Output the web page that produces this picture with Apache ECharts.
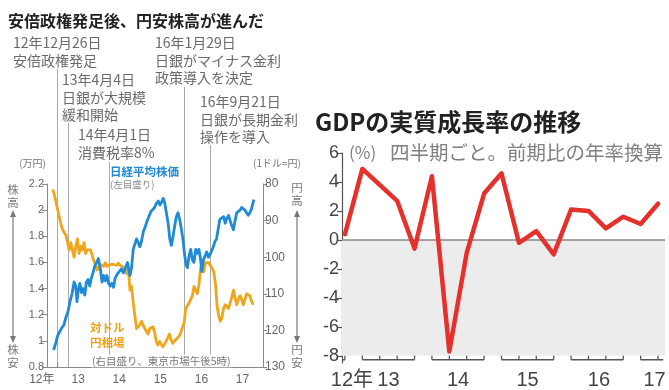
<!DOCTYPE html>
<html>
<head>
<meta charset="utf-8">
<script src="https://cdn.jsdelivr.net/npm/echarts@6.0.0/dist/echarts.min.js"></script>
<style>
html,body{margin:0;padding:0;background:#ffffff;}
#chart{width:669px;height:390px;}
</style>
</head>
<body>
<div id="chart"></div>
<script>
// ---------------- data ----------------
// Nikkei average (10,000 yen), decimal-year sampling
const nikkeiT = [2012.90,2012.95,2013.00,2013.05,2013.10,2013.15,2013.20,2013.25,2013.30,2013.35,
2013.40,2013.44,2013.47,2013.50,2013.54,2013.58,2013.62,2013.66,2013.70,2013.74,
2013.78,2013.82,2013.86,2013.90,2013.95,2013.99,2014.04,2014.08,2014.12,2014.16,
2014.20,2014.24,2014.28,2014.32,2014.36,2014.40,2014.45,2014.50,2014.55,2014.60,
2014.65,2014.70,2014.76,2014.80,2014.84,2014.88,2014.92,2014.96,2015.00,2015.04,
2015.09,2015.13,2015.18,2015.22,2015.27,2015.31,2015.36,2015.40,2015.45,2015.49,
2015.53,2015.57,2015.61,2015.65,2015.69,2015.73,2015.77,2015.81,2015.85,2015.89,
2015.93,2015.97,2016.01,2016.05,2016.09,2016.13,2016.16,2016.20,2016.24,2016.28,
2016.32,2016.36,2016.40,2016.44,2016.48,2016.51,2016.55,2016.59,2016.63,2016.67,
2016.71,2016.75,2016.79,2016.83,2016.87,2016.91,2016.95,2016.99,2017.04,2017.08,
2017.12,2017.16,2017.20,2017.24,2017.28,2017.32,2017.36,2017.40,2017.44,2017.48,
2017.52,2017.56,2017.60,2017.64,2017.68,2017.72,2017.76,2017.78];
const nikkeiV = [0.93,0.98,1.04,1.07,1.10,1.12,1.18,1.22,1.30,1.36,
1.45,1.42,1.30,1.38,1.44,1.37,1.40,1.35,1.45,1.47,
1.42,1.48,1.52,1.57,1.60,1.63,1.55,1.45,1.50,1.46,
1.50,1.44,1.42,1.44,1.41,1.48,1.51,1.53,1.55,1.52,
1.56,1.60,1.50,1.56,1.70,1.74,1.78,1.75,1.72,1.76,
1.84,1.87,1.92,1.95,1.99,1.98,2.02,2.05,2.07,2.04,
2.06,2.09,2.05,2.06,1.90,1.78,1.73,1.80,1.88,1.95,
1.98,1.93,1.86,1.78,1.66,1.58,1.56,1.65,1.70,1.62,
1.60,1.70,1.67,1.70,1.62,1.53,1.62,1.65,1.68,1.64,
1.66,1.69,1.72,1.76,1.78,1.86,1.93,1.92,1.95,1.90,
1.94,1.96,1.92,1.88,1.85,1.92,1.98,1.98,2.00,2.02,
2.01,2.00,1.98,1.96,1.98,2.01,2.06,2.08];

// Yen per dollar
const yenT = [2012.88,2012.92,2012.96,2013.00,2013.04,2013.08,2013.12,2013.16,2013.20,2013.24,
2013.28,2013.32,2013.36,2013.40,2013.44,2013.48,2013.52,2013.56,2013.60,2013.64,
2013.68,2013.72,2013.76,2013.80,2013.84,2013.88,2013.92,2013.96,2014.00,2014.04,
2014.08,2014.12,2014.16,2014.20,2014.24,2014.28,2014.32,2014.36,2014.40,2014.44,
2014.48,2014.52,2014.56,2014.60,2014.64,2014.68,2014.72,2014.76,2014.80,2014.84,
2014.88,2014.92,2014.96,2015.00,2015.04,2015.08,2015.12,2015.16,2015.20,2015.24,
2015.28,2015.32,2015.36,2015.40,2015.44,2015.48,2015.52,2015.56,2015.60,2015.64,
2015.68,2015.72,2015.76,2015.80,2015.84,2015.88,2015.92,2015.96,2016.00,2016.04,
2016.08,2016.12,2016.16,2016.20,2016.24,2016.28,2016.32,2016.36,2016.40,2016.44,
2016.48,2016.52,2016.56,2016.60,2016.64,2016.68,2016.72,2016.76,2016.80,2016.84,
2016.88,2016.92,2016.96,2017.00,2017.04,2017.08,2017.12,2017.16,2017.20,2017.24,
2017.28,2017.32,2017.36,2017.40,2017.44,2017.48,2017.52,2017.56,2017.60,2017.64,
2017.68,2017.72,2017.76];
const yenV = [81.5,83,85,87,89,91,92.5,93,94,96,
98,96,98,100,97,95,99,97,98,96,
99,98,97.5,98,99.5,101,102,103.5,103,102,
101.5,102.5,101.5,102.5,103,102,101.5,102,101.8,102.2,
101.6,102.2,102.5,102.8,103.5,104.5,103,109,108,112.5,
116,119.5,120,118.5,117.5,118,119.5,120,121,119.5,
120,119,120.5,123,124,123,123.5,124.5,124.5,123,
122,121,122.5,123.5,123,122.5,122,121.5,120.5,119,
118,114,113.5,112.5,112,110.5,108,109,110,107.5,
103,102,104,101.5,102,101.5,102,103,104,107,
113,116,117.5,116.5,114,113,112.5,114,112.5,111,
109,111,113,111.5,110.5,111.5,113,111.5,110,109.5,
110.5,112,113];

const leftYearLabels = ['12年','13','14','15','16','17'];
const leftYearLabelPos = [2012.76,2013.5,2014.5,2015.5,2016.5,2017.5];
const leftYearTicks = [2013,2014,2015,2016,2017];

const eventDates = ['2012-12-26','2013-04-04','2014-04-01','2016-01-29','2016-09-21'];
const eventTexts = [
  ['12年12月26日','安倍政権発足'],
  ['13年4月4日','日銀が大規模','緩和開始'],
  ['14年4月1日','消費税率8%'],
  ['16年1月29日','日銀がマイナス金利','政策導入を決定'],
  ['16年9月21日','日銀が長期金利','操作を導入']
];

// GDP real growth (annualized q/q, %)
const gdpQuarters = ['2012Q4','2013Q1','2013Q2','2013Q3','2013Q4','2014Q1','2014Q2','2014Q3','2014Q4',
'2015Q1','2015Q2','2015Q3','2015Q4','2016Q1','2016Q2','2016Q3','2016Q4','2017Q1','2017Q2'];
const gdpValues = [0.4,4.9,3.8,2.7,-0.6,4.4,-7.7,-0.9,3.2,4.6,-0.2,0.6,-1.0,2.1,2.0,0.8,1.6,1.1,2.5];
const gdpYTicks = [-8,-6,-4,-2,0,2,4,6];
const gdpYearLabels = ['12年','13','14','15','16','17'];
const gdpYearLabelPos = [0.4,2.5,6.5,10.5,14.6,17.8];

// ---------------- chart ----------------
const JP = "'Noto Sans CJK JP','Noto Sans',sans-serif";
const NUM = "'Liberation Sans','Noto Sans CJK JP',sans-serif";
const NARROW = "'Liberation Sans Narrow','Liberation Sans','Noto Sans CJK JP',sans-serif";

function decYear(s){
  const p = s.split('-').map(Number);
  const a = Date.UTC(p[0],0,1), b = Date.UTC(p[0]+1,0,1);
  return p[0] + (Date.UTC(p[0],p[1]-1,p[2]) - a) / (b - a);
}

const nikkeiData = nikkeiT.map((t,i)=>[t,nikkeiV[i]]);
const yenData = yenT.map((t,i)=>[t,yenV[i]]);
const gdpData = gdpValues.map((v,i)=>[i,v]);

const GX_MIN = -0.17, GX_MAX = 18.4;
const GY_MIN = -8.5, GY_MAX = 6;
const GY_BASE = -8.27;             // broken baseline sits a little under the -8 tick
const groups = [];
gdpQuarters.forEach((q,i)=>{
  const y = q.slice(0,4);
  let g = groups.find(o=>o.y===y);
  if(!g){ g = {y:y, first:i, last:i}; groups.push(g); } else g.last = i;
});
const segSeries = groups.map((g,k)=>{
  const a = k===0 ? GX_MIN : g.first;
  const b = k===groups.length-1 ? GX_MAX - 0.1 : g.last;
  const pts = [{value:[a,GY_BASE], symbol:'none'}];
  for(let i=g.first;i<=g.last;i++) pts.push({value:[i,GY_BASE]});
  pts.push({value:[b,GY_BASE], symbol:'none'});
  return {
    type:'line', xAxisIndex:1, yAxisIndex:2, silent:true, z:8,
    showAllSymbol:true, symbol:'rect', symbolSize:[1.3,4], symbolOffset:[0,-2],
    itemStyle:{color:'#555'},
    lineStyle:{color:'#555', width:1.5},
    data:pts
  };
});

const chart = echarts.init(document.getElementById('chart'), null, {renderer:'canvas'});

const option = {
  animation:false,
  backgroundColor:'#ffffff',
  textStyle:{fontFamily:JP},
  grid:[
    {left:47, right:406, top:184, bottom:23},
    {left:342, right:4, top:153, bottom:25.7}
  ],
  xAxis:[
    {
      gridIndex:0, type:'value', min:2012.74, max:2018.0,
      axisLine:{show:true, onZero:false, lineStyle:{color:'#888', width:1}},
      axisTick:{show:false},
      axisLabel:{
        customValues:leftYearLabelPos, color:'#666', fontSize:12, margin:7, fontFamily:NARROW,
        formatter:function(v){
          const i = leftYearLabelPos.findIndex(p=>Math.abs(p-v)<1e-6);
          if(i===0) return '{a|'+leftYearLabels[0]+'}';
          return i>=0 ? leftYearLabels[i] : '';
        },
        rich:{a:{fontSize:12, color:'#666', fontFamily:NARROW, padding:[0,12,0,0]}}
      },
      splitLine:{show:false}
    },
    {
      gridIndex:1, type:'value', min:GX_MIN, max:GX_MAX,
      axisLine:{show:false, onZero:false},
      axisTick:{show:false},
      axisLabel:{
        customValues:gdpYearLabelPos, color:'#444', fontSize:20, margin:7, fontFamily:NUM,
        formatter:function(v){
          const i = gdpYearLabelPos.findIndex(p=>Math.abs(p-v)<1e-6);
          return i>=0 ? gdpYearLabels[i] : '';
        }
      },
      splitLine:{show:false}
    }
  ],
  yAxis:[
    {
      gridIndex:0, type:'value', position:'left', min:0.8, max:2.2, interval:0.2,
      axisLine:{show:true, onZero:false, lineStyle:{color:'#888', width:1}},
      axisTick:{show:true, length:5, lineStyle:{color:'#888'}},
      axisLabel:{color:'#666', fontSize:11, margin:3, fontFamily:NARROW,
        formatter:function(v){ return String(Math.round(v*10)/10); }},
      splitLine:{show:false}
    },
    {
      gridIndex:0, type:'value', position:'right', inverse:true, min:80, max:130, interval:10,
      axisLine:{show:true, onZero:false, lineStyle:{color:'#888', width:1}},
      axisTick:{show:true, length:4, lineStyle:{color:'#888'}},
      axisLabel:{color:'#666', fontSize:12, margin:2, fontFamily:NARROW},
      splitLine:{show:false}
    },
    {
      gridIndex:1, type:'value', min:GY_MIN, max:GY_MAX,
      axisLine:{show:true, onZero:false, lineStyle:{color:'#555', width:1.2}},
      axisTick:{show:true, length:5, customValues:gdpYTicks, lineStyle:{color:'#555', width:1.2}},
      axisLabel:{color:'#444', fontSize:18, margin:3, fontFamily:NUM, customValues:gdpYTicks},
      splitLine:{show:false}
    }
  ],
  series:[
    {
      name:'円相場', type:'line', xAxisIndex:0, yAxisIndex:1, data:yenData,
      symbol:'none', z:3, lineStyle:{color:'#f0a61c', width:2.8, join:'round'}
    },
    {
      name:'日経平均株価', type:'line', xAxisIndex:0, yAxisIndex:0, data:nikkeiData,
      symbol:'none', z:4, lineStyle:{color:'#1f8ad6', width:2.8, join:'round'}
    },
    {
      name:'yearTicks', type:'line', xAxisIndex:0, yAxisIndex:0, silent:true, z:5,
      data:leftYearTicks.map(t=>[t,0.8]),
      showAllSymbol:true, symbol:'rect', symbolSize:[1,4], symbolOffset:[0,-2],
      itemStyle:{color:'#888'}, lineStyle:{width:0, opacity:0}
    },
    {
      name:'GDP', type:'line', xAxisIndex:1, yAxisIndex:2, data:gdpData,
      symbol:'none', z:5, lineStyle:{color:'#e5302b', width:4.5, join:'round', cap:'round'},
      markArea:{silent:true, itemStyle:{color:'#ececec'}, data:[[{yAxis:0},{yAxis:-8}]]},
      markLine:{silent:true, symbol:['none','none'], label:{show:false},
        lineStyle:{color:'#888', width:1.5, type:'solid'}, data:[{yAxis:0}]}
    }
  ].concat(segSeries)
};
chart.setOption(option);

// ---------- annotations & labels ----------
const g = [];
function txt(x,y,text,o){
  o = o || {};
  g.push({type:'text', x:x, y:y, z:o.z||20, silent:true, style:{
    text:text, fill:o.fill||'#666', fontSize:o.size||12, fontFamily:o.family||JP,
    fontWeight:o.weight||'normal', textAlign:o.align||'left', textVerticalAlign:o.va||'middle',
    lineHeight:o.lh, backgroundColor:o.bg, padding:o.pad
  }});
}
// left title
txt(8,21,'安倍政権発足後、円安株高が進んだ',{size:16, weight:'bold', fill:'#222'});

// event annotations
const annPos = [[13,34],[62,71],[78,126],[155,34],[200,93]];
const lineTops = [69,123,162,87,145];
const yBottom = chart.convertToPixel({yAxisIndex:0}, 0.8);
eventDates.forEach((d,i)=>{
  const x = Math.round(chart.convertToPixel({xAxisIndex:0}, decYear(d))) + 0.5;
  g.push({type:'line', silent:true, z:1, shape:{x1:x, y1:lineTops[i], x2:x, y2:yBottom},
    style:{stroke:'#aaa', lineWidth:1}});
  txt(annPos[i][0], annPos[i][1], eventTexts[i].join('\n'), {size:14, fill:'#6a6a6a', va:'top', lh:17.5});
});

// axis units
txt(46,163,'(万円)',{size:10, fill:'#777', align:'right'});
txt(253,163,'(1ドル=円)',{size:10, fill:'#777'});

// vertical arrows
function arrow(x, y1, y2){
  g.push({type:'line', silent:true, shape:{x1:x,y1:y1+4,x2:x,y2:y2-4}, style:{stroke:'#777', lineWidth:1.2}});
  g.push({type:'polygon', silent:true, shape:{points:[[x,y1-1],[x-3,y1+6],[x+3,y1+6]]}, style:{fill:'#777'}});
  g.push({type:'polygon', silent:true, shape:{points:[[x,y2+1],[x-3,y2-6],[x+3,y2-6]]}, style:{fill:'#777'}});
}
txt(13,196,'株\n高',{size:11.5, fill:'#777', align:'center', lh:12.5});
arrow(13,211,342);
txt(13,356,'株\n安',{size:11.5, fill:'#777', align:'center', lh:12.5});
txt(297,194,'円\n高',{size:11.5, fill:'#777', align:'center', lh:12.5});
arrow(297,211,342);
txt(297,356,'円\n安',{size:11.5, fill:'#777', align:'center', lh:12.5});

// series labels
txt(110,172,'日経平均株価',{size:11.5, fill:'#1f8ad6', weight:'bold'});
txt(110,184,'(左目盛り)',{size:9.5, fill:'#888'});
txt(90,328,'対ドル',{size:11.5, fill:'#eea21a', weight:'bold'});
txt(90,343,'円相場',{size:11.5, fill:'#eea21a', weight:'bold'});
txt(91,361,'(右目盛り、東京市場午後5時)',{size:10.5, fill:'#777', bg:'#ffffff', pad:[1,1,1,1]});

// GDP title & subtitle
txt(315,122,'GDPの実質成長率の推移',{size:24, weight:'bold', fill:'#222'});
txt(349,153,'(%)',{size:17, fill:'#808080'});
txt(390,153,'四半期ごと。前期比の年率換算',{size:19.5, fill:'#808080'});

chart.setOption({graphic:g});
</script>
</body>
</html>
